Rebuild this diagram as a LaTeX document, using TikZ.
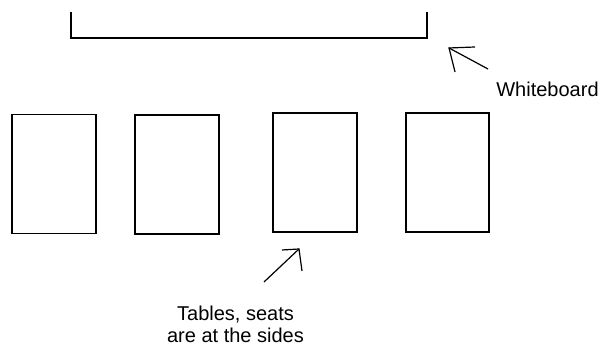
\documentclass[tikz,border=0pt]{standalone}
\usepackage{fontspec}
\setmainfont{Liberation Sans}
\usetikzlibrary{calc}

\begin{document}
\begin{tikzpicture}[x=1pt,y=1pt,line width=1.2pt,
		desk/.style={draw,rectangle,inner sep=0pt,minimum width=84pt,minimum height=119pt},
		note/.style={inner sep=0pt,align=center,font=\fontsize{20}{22}\selectfont}]
			\useasboundingbox (0,0) rectangle (602,347);
			
			% whiteboard
			\coordinate (wbl) at (71,335);
			\coordinate (wbr) at (427,335);
			\draw (wbl) -- (71,309) -- (427,309) -- (wbr);
			
			% tables
			\node[desk] (t1) at (54,173) {};
			\node[desk] (t2) at (177,172.5) {};
			\node[desk] (t3) at (315,174.5) {};
			\node[desk,minimum width=83pt] (t4) at (447.5,174.5) {};
			
			% labels
			\node[note,anchor=base] (wb) at (547.5,250) {Whiteboard};
			\node[note,anchor=base] (tb) at (235.5,4.5) {Tables, seats\\are at the sides};
			
			% pointers
			\coordinate (wbtip) at (449,299);
			\coordinate (wbtail) at (488,278);
			\draw (wbtail) -- (wbtip);
			\draw ($(wbtip)+(26,1)$) -- (wbtip) -- ($(wbtip)+(6,-24)$);
			
			\coordinate (tbtip) at (299,98);
			\coordinate (tbtail) at (264,65);
			\draw (tbtail) -- (tbtip);
			\draw ($(tbtip)+(-17,-1)$) -- (tbtip) -- ($(tbtip)+(3,-22)$);
		\end{tikzpicture}
\end{document}
